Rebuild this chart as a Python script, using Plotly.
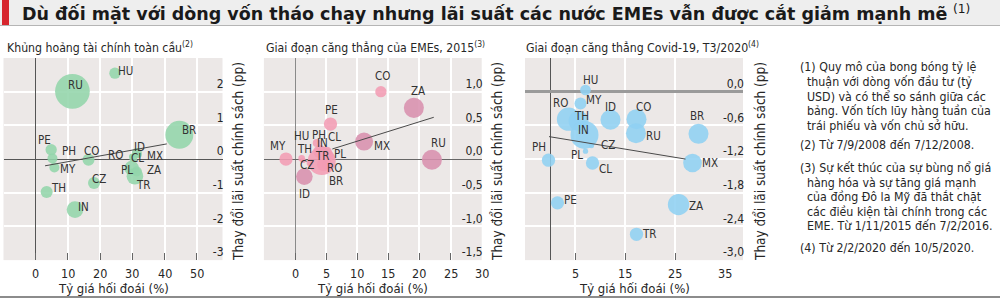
import plotly.graph_objects as go

# ---------------- DATA ----------------
countries1 = ["HU", "RU", "BR", "PE", "PH", "MY", "CO", "ID", "RO", "CL", "MX", "PL", "ZA", "TR", "CZ", "TH", "IN"]
fx1 = [24.6, 11.4, 44.6, 4.8, 5.2, 5.8, 16.4, 31.4, 29.8, 30.3, 31.9, 29.8, 31.4, 30.8, 18.1, 3.4, 12.2]
rate1 = [2.55, 2.01, 0.72, 0.28, 0.02, -0.25, -0.02, 0.18, 0.08, 0.03, 0.13, -0.27, -0.37, -0.51, -0.71, -0.98, -1.5]
flow1 = [3.2, 30, 19.5, 3.2, 2.5, 2.5, 3.6, 2.5, 0.7, 1.6, 1.1, 5.4, 2.5, 6.9, 3.6, 3.6, 6.9]
trend1_x = [2.9, 40.7]
trend1_y = [-0.2, 0.45]

countries2 = ["CO", "ZA", "PE", "MX", "RU", "MY", "ID", "HU", "TH", "PH", "CL", "IN", "TR", "PL", "CZ", "RO", "BR"]
fx2 = [13.8, 19.1, 5.7, 11.1, 22.0, -1.45, 1.5, 1.07, 1.3, 3.5, 5.1, 4.0, 4.3, 5.4, 2.4, 5.1, 4.6]
rate2 = [1.0, 0.76, 0.52, 0.26, -0.01, 0.0, -0.26, 0.01, -0.02, 0.24, 0.11, 0.11, -0.03, 0.04, -0.06, -0.08, -0.08]
flow2 = [3.2, 10, 4.4, 8.1, 10, 4.4, 6.9, 1.1, 0.7, 1.6, 2.5, 4.4, 19.5, 2.5, 1.1, 2.5, 4.4]
trend2_x = [6.0, 22.3]
trend2_y = [0.15, 0.62]

countries3 = ["HU", "MY", "RO", "TH", "IN", "ID", "CO", "RU", "BR", "CZ", "PL", "PH", "CL", "MX", "PE", "ZA", "TR"]
fx3 = [7.1, 6.1, 3.7, 5.7, 6.9, 12.1, 17.3, 17.2, 29.7, 8.3, 7.1, -0.3, 8.5, 28.5, 1.5, 25.7, 17.3]
rate3 = [0.03, -0.21, -0.49, -0.52, -0.77, -0.50, -0.49, -0.74, -0.75, -0.96, -1.06, -1.22, -1.27, -1.27, -1.98, -2.01, -2.54]
flow3 = [2.85, 3.6, 13.5, 10, 19.5, 10, 10, 10, 10, 0.7, 0.7, 4.4, 4.4, 8.7, 4.4, 11.3, 4.4]
trend3_x = [-0.2, 27.1]
trend3_y = [-0.80, -1.20]

title_text = "Dù đối mặt với dòng vốn tháo chạy nhưng lãi suất các nước EMEs vẫn được cắt giảm mạnh mẽ"
panel_titles = ["Khủng hoảng tài chính toàn cầu", "Giai đoạn căng thẳng của EMEs, 2015", "Giai đoạn căng thẳng Covid-19, T3/2020"]
panel_notes = ["(2)", "(3)", "(4)"]
x_title = "Tỷ giá hối đoái (%)"
y_title = "Thay đổi lãi suất chính sách (pp)"

x1_ticks = [-10, 0, 10, 20, 30, 40, 50]
x1_text = ["", "0", "10", "20", "30", "40", "50"]
y1_ticks = [3, 2, 1, 0, -1, -2, -3]
y1_text = ["", "2", "1", "0", "-1", "-2", "-3"]
x2_ticks = [-5, 0, 5, 10, 15, 20, 25, 30]
x2_text = ["", "0", "5", "10", "15", "20", "25", "30"]
y2_ticks = [1.5, 1.0, 0.5, 0.0, -0.5, -1.0, -1.5]
y2_text = ["", "1,0", "0,5", "0,0", "-0,5", "-1,0", "-1,5"]
x3_ticks = [-5, 5, 15, 25, 35]
x3_text = ["", "5", "15", "25", "35"]
y3_ticks = [0.6, 0.0, -0.6, -1.2, -1.8, -2.4, -3.0]
y3_text = ["", "0,0", "-0,6", "-1,2", "-1,8", "-2,4", "-3,0"]

notes_lines = [
    "(1) Quy mô của bong bóng tỷ lệ",
    "thuận với dòng vốn đầu tư (tỷ",
    "USD) và có thể so sánh giữa các",
    "bảng. Vốn tích lũy hàng tuần của",
    "trái phiếu và vốn chủ sở hữu.",
    "(2) Từ 7/9/2008 đến 7/12/2008.",
    "(3) Sự kết thúc của sự bùng nổ giá",
    "hàng hóa và sự tăng giá mạnh",
    "của đồng Đô la Mỹ đã thắt chặt",
    "các điều kiện tài chính trong các",
    "EME. Từ 1/11/2015 đến 7/2/2016.",
    "(4) Từ 2/2/2020 đến 10/5/2020.",
]

# ---------------- STYLE ----------------
W, H = 1000, 299
FONT = "DejaVu Sans Condensed, Liberation Sans Narrow, Roboto, sans-serif"
TXT = "#262626"
BG = "#ece8e7"
SIZEREF = 4 * 30 / (2 * 34.7 ** 2)

label_off1 = {"HU": (11, 2), "RU": (3, 6), "BR": (10, 5), "PE": (-7, 10), "PH": (17, 7), "MY": (14, -2),
              "CO": (3, 9), "ID": (3, 6), "RO": (-16, 1), "CL": (4, 0), "MX": (17, -1), "PL": (-5, -2),
              "ZA": (17, 2), "TR": (9, -9), "CZ": (5, 4), "TH": (12, 4), "IN": (8, 3)}
label_off2 = {"CO": (2, 16), "ZA": (4, 17), "PE": (1, 14), "MX": (18, -4), "RU": (7, 17), "MY": (-8, 13),
              "ID": (0, -17), "HU": (0, 22), "TH": (1, 11), "PH": (2, 8), "CL": (8, 15), "IN": (3, 9),
              "TR": (1, 5), "PL": (11, 2), "CZ": (-3, -2), "RO": (8, -4), "BR": (12, -17)}
label_off3 = {"HU": (5, 10), "MY": (13, 3), "RO": (-8, 16), "TH": (3, 5), "IN": (-1, 5), "ID": (0, 13),
              "CO": (7, 12), "RU": (17, -3), "BR": (-2, 18), "CZ": (16, 1), "PL": (-9, -4), "PH": (-10, 13),
              "CL": (13, -6), "MX": (17, 0), "PE": (13, 3), "ZA": (17, -1), "TR": (13, 0)}

mauve2 = {"ZA", "MX", "RU", "ID"}
colors2 = ["#d890ae" if c in mauve2 else "#f29cb4" for c in countries2]

panels = [
    dict(c=countries1, x=fx1, y=rate1, s=flow1, tx=trend1_x, ty=trend1_y, col="#93d5ab", off=label_off1,
         xd=[0.0035, 0.2225], xr=[-10, 58], xt=x1_ticks, xtt=x1_text, yr=[-3, 3], yt=y1_ticks, ytt=y1_text,
         yz=("#555555", 1), xz=("#555555", 1)),
    dict(c=countries2, x=fx2, y=rate2, s=flow2, tx=trend2_x, ty=trend2_y, col=colors2, off=label_off2,
         xd=[0.2639, 0.4817], xr=[-5, 30], xt=x2_ticks, xtt=x2_text, yr=[-1.5, 1.5], yt=y2_ticks, ytt=y2_text,
         yz=("#666666", 1), xz=("#8a8a8a", 1)),
    dict(c=countries3, x=fx3, y=rate3, s=flow3, tx=trend3_x, ty=trend3_y, col="#8fd0f2", off=label_off3,
         xd=[0.525, 0.743], xr=[-5, 38.6], xt=x3_ticks, xtt=x3_text, yr=[-3.0, 0.6], yt=y3_ticks, ytt=y3_text,
         yz=("#9a9a9a", 2.5), xz=("#555555", 1)),
]

YD = [0.130, 0.806]
fig = go.Figure()
annotations = []
layout_axes = {}

for i, p in enumerate(panels):
    n = "" if i == 0 else str(i + 1)
    xa, ya = "x" + n, "y" + n
    fig.add_trace(go.Scatter(
        x=p["x"], y=p["y"], mode="markers", xaxis=xa, yaxis=ya,
        marker=dict(size=p["s"], sizemode="area", sizeref=SIZEREF, color=p["col"], opacity=0.88,
                    line=dict(width=0)),
        hoverinfo="skip", showlegend=False))
    fig.add_trace(go.Scatter(
        x=p["tx"], y=p["ty"], mode="lines", xaxis=xa, yaxis=ya,
        line=dict(color="#4a4a4a", width=1), hoverinfo="skip", showlegend=False))
    for c, xv, yv in zip(p["c"], p["x"], p["y"]):
        dx, dy = p["off"][c]
        annotations.append(dict(x=xv, y=yv, xref=xa, yref=ya, text=c, showarrow=False,
                                xshift=dx, yshift=dy, font=dict(family=FONT, size=11.5, color="#333333")))
    # x tick labels, placed on the x axis scale below the plot
    for tv, tt in zip(p["xt"], p["xtt"]):
        if tt:
            annotations.append(dict(x=tv, y=1 - 273 / H, xref=xa, yref="paper", text=tt, showarrow=False,
                                    xanchor="center", yanchor="middle",
                                    font=dict(family=FONT, size=12.5, color=TXT)))
    layout_axes["xaxis" + n] = dict(
        domain=p["xd"], range=p["xr"], anchor=ya, tickmode="array", tickvals=p["xt"], ticktext=p["xtt"],
        showgrid=True, gridcolor="white", gridwidth=2, zeroline=True, zerolinecolor=p["xz"][0],
        zerolinewidth=p["xz"][1], ticks="inside", ticklen=7, tickcolor="#666666", tickwidth=1,
        showline=False, showticklabels=False, fixedrange=True)
    layout_axes["yaxis" + n] = dict(
        domain=YD, range=p["yr"], anchor=xa, side="right", tickmode="array", tickvals=p["yt"],
        ticktext=p["ytt"], showgrid=True, gridcolor="white", gridwidth=2, zeroline=True,
        zerolinecolor=p["yz"][0], zerolinewidth=p["yz"][1], ticks="", showline=False,
        ticklabelposition="inside", ticklabelshift=-8, ticklabelstandoff=-4,
        tickfont=dict(family=FONT, size=12, color=TXT), fixedrange=True)
    # panel title
    annotations.append(dict(x=[5, 264, 524][i] / W, y=1 - 47 / H, xref="paper", yref="paper",
                            xanchor="left", yanchor="middle", showarrow=False,
                            text=panel_titles[i] + "<sup>" + panel_notes[i] + "</sup>",
                            font=dict(family=FONT, size=12.2, color=TXT)))
    # x title
    annotations.append(dict(x=(p["xd"][0] + p["xd"][1]) / 2, y=1 - 288 / H, xref="paper", yref="paper",
                            xanchor="center", yanchor="middle", showarrow=False, text=x_title,
                            font=dict(family=FONT, size=13, color=TXT)))
    # y title
    annotations.append(dict(x=[238, 497, 760][i] / W, y=1 - 162 / H, xref="paper", yref="paper",
                            xanchor="center", yanchor="middle", showarrow=False, text=y_title,
                            textangle=-90, font=dict(family=FONT, size=13.5, color=TXT)))

# main title
annotations.append(dict(x=20 / W, y=1 - 13 / H, xref="paper", yref="paper", xanchor="left", yanchor="middle",
                        showarrow=False, text="<b>" + title_text + "</b> <sup>(1)</sup>",
                        font=dict(family="DejaVu Sans, Roboto, sans-serif", size=17.5, color="#1a1a1a")))

# notes
note_y = [67, 82, 97, 111, 126, 145, 168, 183, 197, 212, 226, 248]
for line, yy in zip(notes_lines, note_y):
    indent = 798 if line.startswith("(") else 805
    annotations.append(dict(x=indent / W, y=1 - yy / H, xref="paper", yref="paper", xanchor="left",
                            yanchor="middle", showarrow=False, text=line,
                            font=dict(family=FONT, size=12.3, color=TXT)))

shapes = [
    dict(type="rect", xref="paper", yref="paper", x0=0, x1=1, y0=1 - 25 / H, y1=1,
         fillcolor="#eeeeee", line=dict(width=0), layer="below"),
    dict(type="rect", xref="paper", yref="paper", x0=2 / W, x1=9 / W, y0=1 - 25 / H, y1=1,
         fillcolor="#d7262e", line=dict(width=0)),
    dict(type="line", xref="paper", yref="paper", x0=0, x1=1, y0=1 - 25.5 / H, y1=1 - 25.5 / H,
         line=dict(color="#b5b5b5", width=1)),
    dict(type="line", xref="paper", yref="paper", x0=0, x1=1, y0=1 - 297 / H, y1=1 - 297 / H,
         line=dict(color="#8c8c8c", width=2)),
]

fig.update_layout(
    width=W, height=H, margin=dict(l=0, r=0, t=0, b=0),
    paper_bgcolor="white", plot_bgcolor=BG,
    annotations=annotations, shapes=shapes, showlegend=False,
    **layout_axes,
)

fig.write_html("out.html", include_plotlyjs=True, config={"displayModeBar": False, "staticPlot": True})
